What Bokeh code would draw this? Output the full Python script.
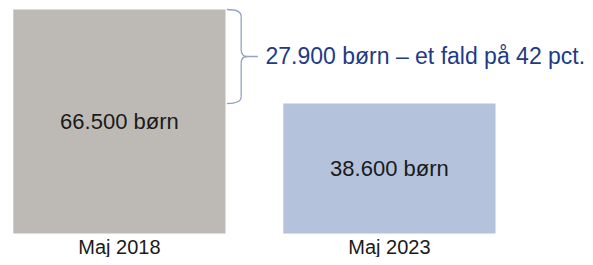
from bokeh.plotting import figure
from bokeh.models import Range1d, ColumnDataSource
from bokeh.core.properties import value
from bokeh.embed import file_html
from bokeh.resources import INLINE

# ---- data ----
categories = ["Maj 2018", "Maj 2023"]
counts = [66500, 38600]
bar_colors = ["#BDBAB5", "#B4C2DC"]
unit = "børn"


def fmt(v):
    return f"{v:,}".replace(",", ".")


diff = counts[0] - counts[1]
pct = round(diff / counts[0] * 100)
diff_label = f"{fmt(diff)} {unit} – et fald på {pct} pct."
bar_labels = [f"{fmt(v)} {unit}" for v in counts]

FONT = "Liberation Sans"
W = 0.786
xs = list(range(len(categories)))

p = figure(width=585, height=257, output_backend="svg", toolbar_location=None,
           x_range=Range1d(-0.4404, 1.7263), y_range=Range1d(-7125, 69172),
           min_border=0, outline_line_color=None, background_fill_color="white",
           border_fill_color="white")
p.xaxis.visible = False
p.yaxis.visible = False
p.grid.visible = False

src = ColumnDataSource(dict(x=xs, top=counts, color=bar_colors, cat=categories,
                            lab=bar_labels, mid=[v / 2 for v in counts]))
p.vbar(x="x", top="top", bottom=0, width=W, fill_color="color", line_color=None, source=src)

# labels inside bars
p.text(x="x", y="mid", text="lab", source=src, text_align="center", text_baseline="middle",
       text_font=value(FONT), text_font_size="22px", text_color="#1A1A1A")

# category labels below bars
p.text(x="x", y=0, text="cat", source=src, text_align="center", text_baseline="middle",
       y_offset=13, text_font=value(FONT), text_font_size="20px", text_color="#1A1A1A")

# bracket between the two bar tops
edge = xs[0] + W / 2
x0 = edge + 0.005
xv = edge + 0.058
xm = edge + 0.08
xtip = edge + 0.12
ytop, ybot = counts[0], counts[1]
ymid = (ytop + ybot) / 2
r = 2000
bc = "#93A4C0"
p.quadratic(x0=[x0, xv, xv, x0], y0=[ytop, ymid + r, ymid - r, ybot],
            x1=[xv, xm, xm, xv], y1=[ytop - r, ymid, ymid, ybot + r],
            cx=[xv, xv, xv, xv], cy=[ytop, ymid, ymid, ybot],
            line_color=bc, line_width=1.3)
p.segment(x0=[xv, xv, xm], y0=[ytop - r, ymid - r, ymid],
          x1=[xv, xv, xtip], y1=[ymid + r, ybot + r, ymid],
          line_color=bc, line_width=1.3)

# difference annotation
p.text(x=[edge + 0.148], y=[ymid], text=[diff_label], text_align="left",
       text_baseline="middle", text_font=value(FONT), text_font_size="23px",
       text_color="#1F3A86")

open("out.html", "w").write(file_html(p, INLINE))
